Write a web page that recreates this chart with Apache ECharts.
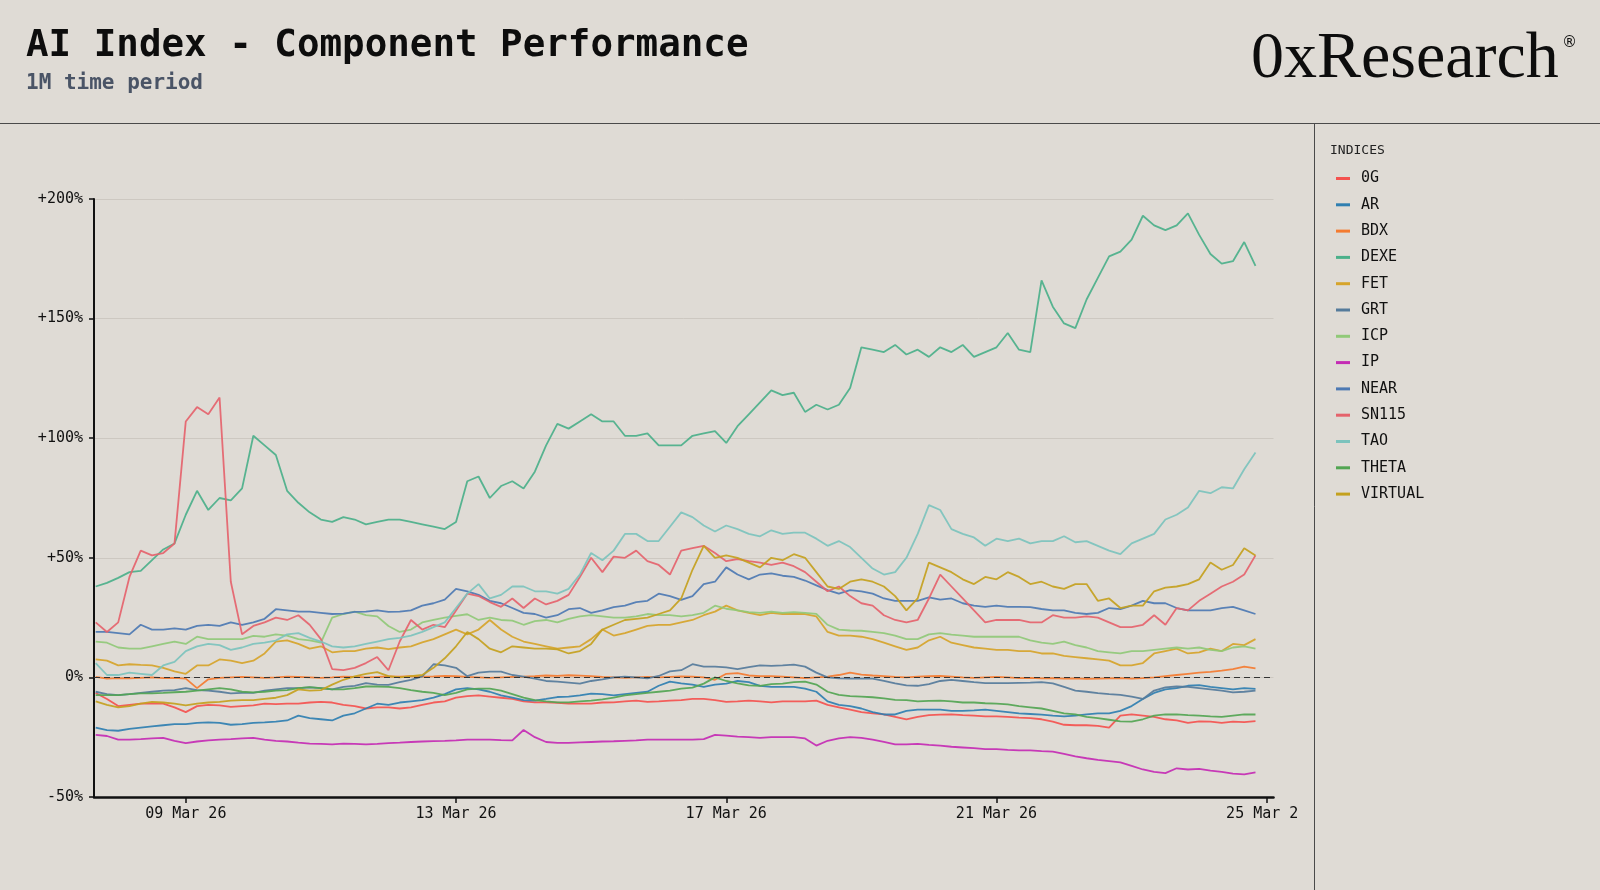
<!DOCTYPE html>
<html>
<head>
<meta charset="utf-8">
<script src="https://cdn.jsdelivr.net/npm/echarts@6/dist/echarts.min.js"></script>
<style>
html,body{margin:0;padding:0;background:#dfdbd5;}
#c{width:1600px;height:890px;}
</style>
</head>
<body>
<div id="c"></div>
<script>
// ---- data (4-hour samples from 07 Mar 26 16:00 to 24 Mar 26 20:00) ----
const startTime = Date.UTC(2026, 2, 7, 16);
const stepHours = 4;
const tickDates = ['2026-03-09', '2026-03-13', '2026-03-17', '2026-03-21', '2026-03-25'];
const yTicks = [-50, 0, 50, 100, 150, 200];
const seriesNames = ['0G','AR','BDX','DEXE','FET','GRT','ICP','IP','NEAR','SN115','TAO','THETA','VIRTUAL'];
const seriesColors = ['#f4524f','#2f7fb1','#f47b30','#4bb08a','#d6a42a','#557b9b','#90c978','#c42bb4','#4d79b3','#e5636c','#7cc3bd','#52a552','#c4a11e'];

const val0G = [-6.5,-9,-12,-11.5,-11,-11,-11,-12.5,-14.5,-12,
 -11.5,-11.7,-12.3,-12,-11.7,-11,-11.2,-11,-11,-10.5,
 -10.2,-10.5,-11.5,-12,-13,-12.5,-12.5,-13,-12.5,-11.5,
 -10.5,-10,-8.5,-7.8,-7.5,-8,-8.5,-9,-10,-10.4,
 -10.4,-10.6,-11,-11,-11,-10.5,-10.4,-10,-9.7,-10.2,
 -10,-9.7,-9.5,-9,-9,-9.5,-10.2,-10,-9.7,-10,
 -10.4,-10,-10,-10,-9.7,-11.5,-12.5,-13.5,-14.5,-15,
 -15.5,-16.5,-17.5,-16.5,-15.8,-15.6,-15.5,-15.8,-16,-16.3,
 -16.3,-16.5,-16.8,-17,-17.5,-18.5,-19.8,-20,-20,-20.3,
 -21,-16,-15.5,-16,-16.5,-17.5,-18,-19,-18.4,-18.5,
 -19,-18.5,-18.7,-18.3];
const valAR = [-21,-22,-22.3,-21.5,-21,-20.5,-20,-19.5,-19.5,-19,
 -18.8,-19,-19.8,-19.5,-19,-18.8,-18.5,-18,-16,-17,
 -17.5,-18,-16,-15,-13,-11,-11.5,-10.5,-10,-9.5,
 -8.5,-7,-5,-4.5,-5,-6,-7.5,-8.5,-9.5,-9.7,
 -9,-8.2,-8,-7.5,-6.8,-7,-7.5,-7,-6.5,-6,
 -3.5,-1.8,-2.5,-3,-4,-3,-2.6,-1.5,-2,-3.5,
 -4,-4,-4,-4.7,-6,-10,-11.5,-12,-13,-14.5,
 -15.5,-15.5,-14,-13.5,-13.5,-13.5,-14,-14,-13.8,-13.5,
 -14,-14.5,-15,-15.3,-15.6,-16,-16.3,-16,-15.5,-15,
 -15,-14,-12,-9,-6.5,-5,-4.5,-3.5,-3.2,-4,
 -4.5,-5,-4.5,-4.8];
const valBDX = [0.2,-0.5,-0.3,-0.4,-0.2,0,-0.3,-0.2,-0.5,-4.5,
 -0.8,-0.2,0,0.2,0,-0.2,0,0.3,0.2,0,
 -0.2,0,0.3,0.2,0,0.2,0.4,0.3,0.5,0.3,
 0.4,0.6,0.5,0.2,0,-0.2,0,0.2,0.3,0.5,
 0.8,0.6,0.9,0.7,0.5,0.2,0,-0.2,0,0.2,
 0,0.2,0.4,0.3,0,-1,1.5,1.8,0.8,0.5,
 0.5,0.3,0,-0.3,0,0.3,1,2,1.2,0.8,
 0.5,0.2,0,0.3,0.5,0.6,0.3,0,-0.2,0,
 0.2,0,-0.3,-0.2,-0.4,-0.3,-0.5,-0.4,-0.6,-0.5,
 -0.4,-0.3,-0.5,-0.3,0,0.5,1,1.5,2,2.3,
 2.8,3.5,4.5,3.8];
const valDEXE = [38,39.5,41.6,44,44.5,49,53.5,56,68,78,
 70,75,74,79,101,97,93,78,73,69,
 66,65,67,66,64,65,66,66,65,64,
 63,62,65,82,84,75,80,82,79,86,
 97,106,104,107,110,107,107,101,101,102,
 97,97,97,101,102,103,98,105,110,115,
 120,118,119,111,114,112,114,121,138,137,
 136,139,135,137,134,138,136,139,134,136,
 138,144,137,136,166,155,148,146,158,167,
 176,178,183,193,189,187,189,194,185,177,
 173,174,182,172];
const valFET = [7.5,7,5,5.5,5.2,5,4,2.5,1.5,5,
 5,7.5,7,6,7,10,15,15.5,14,12,
 13,10.5,11,11,12,12.5,11.8,12.5,13,14.6,
 16,18,20,18,20,24,20,17,15,14,
 13,12,12.5,13,16,20,17.5,18.5,20,21.5,
 22,22,23,24,26,27.5,30,28,27,26,
 27,26.5,26.5,26.5,25.5,19,17.5,17.5,17,16,
 14.5,13,11.5,12.5,15.5,17,14.5,13.5,12.5,12,
 11.5,11.5,11,11,10,10,9,8.5,8,7.5,
 7,5,5,6,10,11,12,10,10.5,12,
 11,14,13.5,16];
const valGRT = [-6,-7,-7.4,-7,-6.5,-6,-5.5,-5.3,-4.5,-5.3,
 -5.5,-6,-6.7,-6.5,-6.5,-5.5,-5,-4.5,-4.5,-4.2,
 -4.5,-5,-4,-3.5,-2.4,-3,-3.1,-2,-1,0.4,
 5.5,5,4,0.5,2,2.4,2.4,1,0.3,-0.5,
 -1.5,-1.8,-2.2,-2.6,-1.5,-0.8,0,0.3,0,-0.4,
 0.6,2.5,3,5.5,4.5,4.5,4.2,3.5,4.3,5,
 4.8,5,5.3,4.5,2,0,-0.4,-0.5,-0.5,-0.5,
 -1.5,-2.5,-3.3,-3.5,-2.8,-1.5,-1,-1.5,-2,-2.4,
 -2.4,-2.4,-2.3,-2.2,-2,-2.5,-4,-5.5,-6,-6.6,
 -7,-7.3,-8,-9,-5.5,-4.2,-3.8,-4,-4.5,-5,
 -5.5,-6.3,-6,-5.5];
const valICP = [15,14.5,12.5,12,12,13,14,15,14,17,
 16,16,16,16,17.4,17,18,17.5,16,15.5,
 14.5,25,26.5,27.5,26,25.5,21.5,19,20,23,
 24,25,25.7,26.4,24,25,24,23.7,22,23.5,
 24,23,24.5,25.5,26,25.5,25,25,25.5,26.5,
 26,26,25.5,26,27,30,28.7,28,27.3,27,
 27.5,27,27.3,27,26.6,22,20,19.6,19.5,19,
 18.5,17.5,16,16,18,18.5,17.9,17.5,17,17,
 17,17,17,15.5,14.5,14,15,13.5,12.5,11,
 10.5,10,11,11,11.5,12,12.5,12,12.5,11.5,
 11,12.5,13,12];
const valIP = [-24,-24.5,-26,-26,-25.8,-25.5,-25.3,-26.5,-27.5,-26.8,
 -26.3,-26,-25.8,-25.5,-25.3,-26,-26.5,-26.8,-27.3,-27.7,
 -27.8,-28,-27.7,-27.8,-28,-27.8,-27.5,-27.3,-27,-26.8,
 -26.6,-26.5,-26.3,-26,-26,-26,-26.2,-26.3,-22,-25,
 -27,-27.4,-27.4,-27.2,-27,-26.8,-26.7,-26.5,-26.3,-26,
 -26,-26,-26,-26,-25.8,-24,-24.3,-24.8,-25,-25.3,
 -25,-25,-25,-25.5,-28.5,-26.5,-25.5,-25,-25.3,-26,
 -27,-28,-28,-27.8,-28.2,-28.5,-29,-29.3,-29.6,-30,
 -30,-30.3,-30.5,-30.5,-30.8,-31,-32,-33,-33.8,-34.5,
 -35,-35.5,-37,-38.5,-39.5,-40,-38,-38.5,-38.2,-39,
 -39.5,-40.2,-40.5,-39.7];
const valNEAR = [19,19,18.5,18,22,20,20,20.5,20,21.5,
 22,21.5,23,22,23,24.5,28.5,28,27.5,27.5,
 27,26.5,26.7,27.4,27.5,28,27.4,27.5,28,30,
 31,32.5,37,36,34.5,32,31,29,27,26.5,
 25,26,28.5,29,27,28,29.4,30,31.5,32,
 35,34,32.4,34,39,40,46,43,41,43,
 43.5,42.5,42,40.5,38.5,36.5,35,36.5,36,35,
 33,32,32,32,33.5,32.5,33,31,30,29.5,
 30,29.5,29.5,29.4,28.6,28,28,27,26.5,27,
 29,28.5,30,32,31,31,29,28,28,28,
 29,29.5,28,26.5];
const valSN115 = [23,19,23,42,53,51,52,56,107,113,
 110,117,40,18,21.5,23,25,24,26,22,
 16,3.5,3,4,6,8.5,3,15,24,20,
 22,21,28,35,34,31.5,29.5,33,29,33,
 30.5,32,34.5,42,50,44,50.5,50,53,48.6,
 47,43,53,54,55,52,48.6,49.5,48.6,48,
 47,48,46.5,44,40,36,38,34,31,30,
 26,24,23,24,33,43,38,33,28,23,
 24,24,24,23,23,26,25,25,25.5,25,
 23,21,21,22,26,22,29,28,32,35,
 38,40,43,51];
const valTAO = [6,1,1,2,1.5,1,5,6.5,11,13,
 14,13.5,11.5,12.5,14,14.5,15.4,18,18.5,16.5,
 15,13,12.5,13,14,15,16,16.5,17.5,19,
 21,23,29,35,39,33,34.5,38,38,36,
 36,35,37,43,52,49,53,60,60,57,
 57,63,69,67,63.5,61,63.5,62,60,59,
 61.5,60,60.5,60.5,58,55,57,54.5,50,45.5,
 43,44,50,60,72,70,62,60,58.5,55,
 58,57,58,56,57,57,59,56.5,57,55,
 53,51.5,56,58,60,66,68,71,78,77,
 79.5,79,87,94];
const valTHETA = [-7.4,-7.4,-7.4,-7,-6.7,-6.7,-6.5,-6.2,-6,-5.5,
 -5,-4.5,-5,-6,-6.3,-6,-5.5,-5.3,-4.5,-4.1,
 -4.5,-5,-5,-4.5,-3.8,-3.8,-4,-4.5,-5.3,-6,
 -6.5,-7.4,-6.5,-5,-4.7,-4.7,-5.5,-7,-8.5,-9.5,
 -10,-10.4,-10.4,-10,-9.7,-9.2,-8.5,-7.5,-7,-6.5,
 -6,-5.5,-4.7,-4.3,-2.6,0,-1.5,-2.5,-3.3,-3.5,
 -2.8,-2.6,-2,-1.8,-3,-6,-7.3,-7.8,-8,-8.3,
 -8.8,-9.4,-9.5,-10,-9.8,-9.7,-10,-10.5,-10.5,-10.8,
 -11,-11.3,-12,-12.5,-13,-14,-15,-15.5,-16.5,-17,
 -17.7,-18.4,-18.5,-17.5,-16,-15.5,-15.5,-15.8,-16,-16.3,
 -16.5,-16,-15.5,-15.5];
const valVIRTUAL = [-10,-11.5,-12.5,-12,-11,-10.2,-10.5,-11,-11.7,-11,
 -10.5,-10.2,-9.7,-9.5,-9.5,-9,-8.5,-7.4,-5,-5.5,
 -5.3,-3,-1,0.4,1.5,2.2,0.5,0,0.5,1,
 4,8,13,19,16,12,10.5,13,12.5,12,
 12,11.7,10,11,14,20,22,24,24.5,25,
 26.5,28,33,45,55,50,51,50,48,46,
 50,49,51.5,50,44,38,37,40,41,40,
 38,34,28,33,48,46,44,41,39,42,
 41,44,42,39,40,38,37,39,39,32,
 33,29,30,30,36,37.5,38,39,41,48,
 45,47,54,51];

const seriesValues = [val0G,valAR,valBDX,valDEXE,valFET,valGRT,valICP,valIP,valNEAR,valSN115,valTAO,valTHETA,valVIRTUAL];

// ---- chart ----
const BG = '#dfdbd5';
const MONO = '"DejaVu Sans Mono", "Liberation Mono", monospace';
const HOUR = 3600 * 1000;
const times = val0G.map((_, i) => startTime + i * stepHours * HOUR);
const tickVals = tickDates.map(d => Date.parse(d + 'T00:00:00Z'));
const MONTHS = ['Jan','Feb','Mar','Apr','May','Jun','Jul','Aug','Sep','Oct','Nov','Dec'];
function fmtDate(v) {
  const d = new Date(v);
  const dd = String(d.getUTCDate()).padStart(2, '0');
  return dd + ' ' + MONTHS[d.getUTCMonth()] + ' ' + String(d.getUTCFullYear()).slice(2);
}

const chart = echarts.init(document.getElementById('c'), null, {renderer: 'canvas'});

const series = seriesNames.map((name, k) => {
  const s = {
    name: name,
    type: 'line',
    data: times.map((t, i) => [t, seriesValues[k][i]]),
    showSymbol: false,
    symbol: 'none',
    color: seriesColors[k],
    lineStyle: {width: 1.8, color: seriesColors[k], opacity: 0.92},
    emphasis: {disabled: true},
    silent: true,
    z: 2
  };
  if (k === seriesNames.length - 1) {
    s.markLine = {
      silent: true,
      symbol: ['none', 'none'],
      label: {show: false},
      lineStyle: {color: '#333', type: [6, 4], width: 1.2},
      data: [{yAxis: 0}]
    };
  }
  return s;
});

chart.setOption({
  backgroundColor: BG,
  animation: false,
  grid: {left: 94, right: 326.5, top: 199, bottom: 93, containLabel: false},
  legend: {
    orient: 'vertical',
    left: 1331,
    top: 166,
    icon: 'rect',
    itemWidth: 14,
    itemHeight: 3,
    itemGap: 11.3,
    selectedMode: false,
    data: seriesNames,
    textStyle: {fontFamily: MONO, fontSize: 15, color: '#111', padding: [0, 0, 0, 6]}
  },
  xAxis: {
    type: 'value',
    min: Date.UTC(2026, 2, 7, 15, 24),
    max: Date.UTC(2026, 2, 25, 2, 24),
    axisLine: {show: true, onZero: false, lineStyle: {color: '#111', width: 2.5}},
    axisTick: {show: true, customValues: tickVals, length: 6, lineStyle: {color: '#111', width: 1.5}},
    axisLabel: {customValues: tickVals, formatter: fmtDate, fontFamily: MONO, fontSize: 15, color: '#111', margin: 10, hideOverlap: false, showMinLabel: true, showMaxLabel: true},
    splitLine: {show: false}
  },
  yAxis: {
    type: 'value',
    min: yTicks[0],
    max: yTicks[yTicks.length - 1],
    interval: 50,
    axisLine: {show: true, lineStyle: {color: '#111', width: 2}},
    axisTick: {show: true, length: 5, lineStyle: {color: '#111', width: 1.5}},
    axisLabel: {
      formatter: v => (v > 0 ? '+' + v + '%' : v + '%'),
      fontFamily: MONO, fontSize: 15, color: '#111', margin: 11
    },
    splitLine: {show: true, lineStyle: {color: '#cdc8c1', width: 1}}
  },
  graphic: [
    {type: 'text', z: 10, style: {x: 26, y: 46.5, text: 'AI Index - Component Performance', font: 'bold 37.5px ' + MONO, fill: '#0d0d0d', verticalAlign: 'middle'}},
    {type: 'text', z: 10, style: {x: 26, y: 84, text: '1M time period', font: 'bold 21px ' + MONO, fill: '#4a5466', verticalAlign: 'middle'}},
    {type: 'text', z: 10, style: {x: 1251, y: 60, text: '0xResearch', font: '66px "Liberation Serif", serif', fill: '#0d0d0d', verticalAlign: 'middle'}},
    {type: 'text', z: 10, style: {x: 1562, y: 43, text: '®', font: '15px "DejaVu Sans", sans-serif', fill: '#0d0d0d', verticalAlign: 'middle'}},
    {type: 'line', z: 10, shape: {x1: 0, y1: 123.5, x2: 1600, y2: 123.5}, style: {stroke: '#4a4a4a', lineWidth: 1}},
    {type: 'line', z: 10, shape: {x1: 1314.5, y1: 123.5, x2: 1314.5, y2: 890}, style: {stroke: '#4a4a4a', lineWidth: 1}},
    {type: 'rect', z: 100, shape: {x: 1299, y: 800, width: 15, height: 32}, style: {fill: BG}},
    {type: 'text', z: 10, style: {x: 1330, y: 151, text: 'INDICES', font: '13px ' + MONO, fill: '#222', verticalAlign: 'middle'}}
  ],
  series: series
});
</script>
</body>
</html>
